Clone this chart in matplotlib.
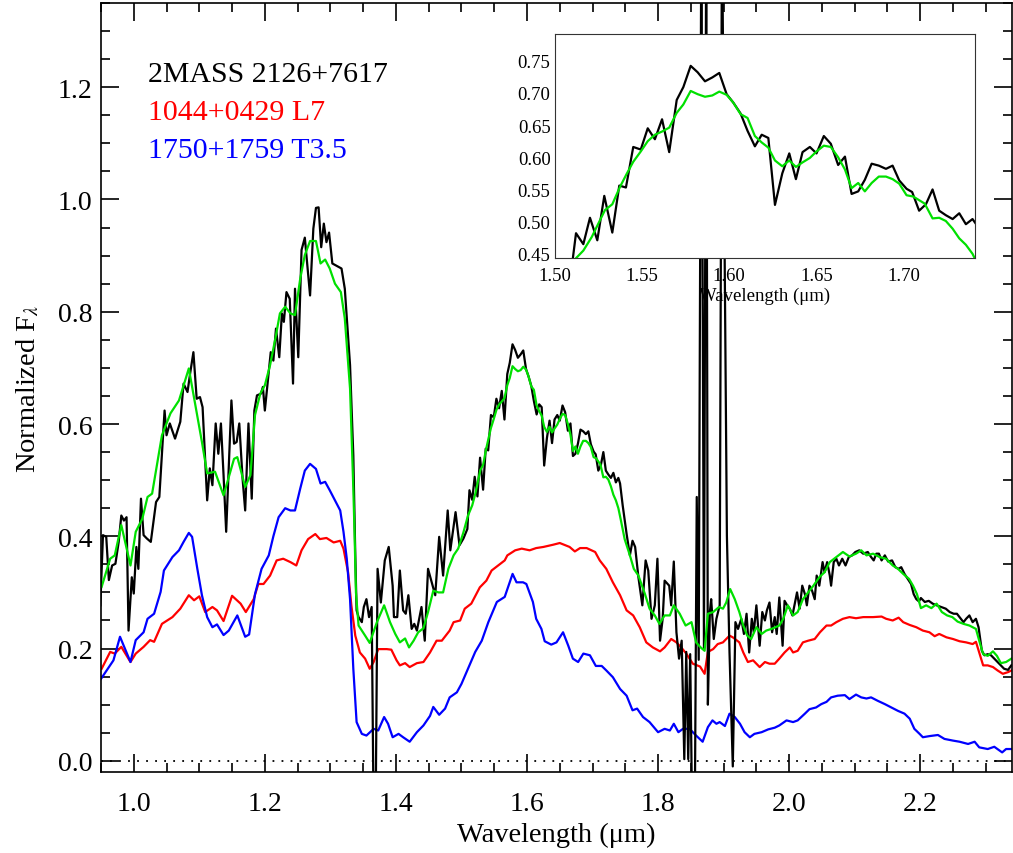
import matplotlib
matplotlib.use("Agg")
import matplotlib.pyplot as plt
from matplotlib.ticker import MultipleLocator, FormatStrFormatter

plt.rcParams["font.family"] = ["Liberation Serif", "DejaVu Serif"]
plt.rcParams["mathtext.fontset"] = "stix"

# --- spectra (wavelength in micron, normalized flux) ---
bk_wave = [0.949, 0.953, 0.958, 0.962, 0.967, 0.972, 0.977, 0.981, 0.985, 0.989, 0.992, 0.997, 1.000, 1.004,
           1.007, 1.011, 1.015, 1.020, 1.026, 1.034, 1.039, 1.047, 1.050, 1.055, 1.063, 1.071, 1.076, 1.082,
           1.086, 1.091, 1.096, 1.101, 1.105, 1.112, 1.116, 1.120, 1.125, 1.129, 1.133, 1.137, 1.141, 1.149,
           1.153, 1.157, 1.161, 1.166, 1.170, 1.175, 1.180, 1.184, 1.188, 1.194, 1.197, 1.200, 1.209, 1.213,
           1.217, 1.222, 1.226, 1.229, 1.233, 1.238, 1.243, 1.246, 1.251, 1.256, 1.261, 1.269, 1.274, 1.278,
           1.282, 1.286, 1.290, 1.294, 1.298, 1.303, 1.317, 1.322, 1.330, 1.335, 1.338, 1.340, 1.343, 1.348,
           1.351, 1.355, 1.359, 1.363, 1.366, 1.369, 1.372, 1.377, 1.383, 1.389, 1.395, 1.397, 1.402, 1.406,
           1.411, 1.415, 1.419, 1.424, 1.428, 1.432, 1.439, 1.444, 1.449, 1.460, 1.466, 1.472, 1.479, 1.483,
           1.491, 1.497, 1.503, 1.509, 1.5122, 1.5164, 1.5202, 1.5244, 1.5284, 1.5330, 1.5370, 1.5408, 1.5450,
           1.5493, 1.5533, 1.5574, 1.5615, 1.5656, 1.5699, 1.5737, 1.5779, 1.5819, 1.5861, 1.5903, 1.5943,
           1.5985, 1.6023, 1.6065, 1.6105, 1.6147, 1.6186, 1.6224, 1.6262, 1.6304, 1.6344, 1.6382, 1.6420,
           1.6462, 1.6500, 1.6542, 1.6582, 1.6624, 1.6663, 1.6701, 1.6739, 1.6777, 1.6816, 1.6857, 1.6898,
           1.6936, 1.6974, 1.7016, 1.7048, 1.7088, 1.7127, 1.7165, 1.7203, 1.7241, 1.7280, 1.7318, 1.7356,
           1.7394, 1.7420, 1.746, 1.752, 1.757, 1.761, 1.765, 1.770, 1.776, 1.781, 1.785, 1.790, 1.795, 1.799,
           1.803, 1.807, 1.810, 1.817, 1.820, 1.824, 1.828, 1.832, 1.836, 1.840, 1.843, 1.846, 1.849, 1.852,
           1.856, 1.859, 1.862, 1.866, 1.870, 1.8735, 1.876, 1.879, 1.881, 1.885, 1.889, 1.894, 1.8975, 1.905,
           1.909, 1.914, 1.918, 1.922, 1.927, 1.931, 1.935, 1.939, 1.943, 1.946, 1.950, 1.955, 1.959, 1.963,
           1.966, 1.970, 1.974, 1.978, 1.981, 1.985, 1.990, 1.993, 1.997, 2.001, 2.005, 2.008, 2.012, 2.016,
           2.020, 2.024, 2.027, 2.031, 2.035, 2.039, 2.042, 2.046, 2.051, 2.054, 2.058, 2.062, 2.064, 2.068,
           2.072, 2.076, 2.081, 2.086, 2.091, 2.096, 2.101, 2.107, 2.113, 2.120, 2.125, 2.129, 2.133, 2.137,
           2.141, 2.146, 2.151, 2.157, 2.162, 2.167, 2.171, 2.176, 2.181, 2.186, 2.190, 2.194, 2.198, 2.201,
           2.207, 2.213, 2.219, 2.225, 2.232, 2.239, 2.245, 2.251, 2.256, 2.260, 2.266, 2.270, 2.275, 2.280,
           2.285, 2.289, 2.294, 2.298, 2.303, 2.308, 2.313, 2.318, 2.323, 2.328, 2.334, 2.339]
bk_flux = [0.277, 0.402, 0.399, 0.322, 0.348, 0.351, 0.390, 0.437, 0.428, 0.434, 0.232, 0.327, 0.298, 0.381,
           0.342, 0.467, 0.402, 0.396, 0.390, 0.461, 0.470, 0.624, 0.580, 0.601, 0.574, 0.604, 0.672, 0.657,
           0.690, 0.728, 0.645, 0.648, 0.630, 0.464, 0.521, 0.491, 0.601, 0.547, 0.601, 0.509, 0.408, 0.642,
           0.565, 0.568, 0.601, 0.503, 0.446, 0.601, 0.467, 0.624, 0.651, 0.654, 0.666, 0.624, 0.728, 0.713,
           0.770, 0.719, 0.797, 0.782, 0.835, 0.823, 0.672, 0.841, 0.719, 0.910, 0.932, 0.829, 0.948, 0.985,
           0.986, 0.915, 0.957, 0.924, 0.941, 0.886, 0.877, 0.841, 0.705, 0.544, 0.366, 0.268, 0.256, 0.247,
           0.274, 0.288, 0.256, 0.274, -0.100, -0.100, 0.342, 0.282, 0.357, 0.381, 0.312, 0.256, 0.256, 0.339,
           0.268, 0.262, 0.295, 0.235, 0.244, 0.232, 0.274, 0.214, 0.342, 0.295, 0.399, 0.330, 0.446, 0.375,
           0.443, 0.384, 0.396, 0.413, 0.482, 0.465, 0.506, 0.471, 0.540, 0.483, 0.556, 0.553, 0.616,
           0.612, 0.645, 0.628, 0.659, 0.608, 0.689, 0.709, 0.742, 0.732, 0.718, 0.724, 0.731,
           0.698, 0.685, 0.668, 0.641, 0.617, 0.635, 0.630, 0.526, 0.575, 0.606, 0.566, 0.608,
           0.616, 0.606, 0.633, 0.621, 0.588, 0.601, 0.543, 0.547, 0.565, 0.590, 0.587, 0.582,
           0.587, 0.564, 0.551, 0.546, 0.517, 0.527, 0.550, 0.517, 0.510, 0.504, 0.513, 0.496,
           0.504, 0.494, 0.455, 0.404, 0.366, 0.392, 0.381, 0.327, 0.277, 0.357, 0.339, 0.253, 0.277, 0.360,
           0.214, 0.253, 0.321, 0.312, 0.277, 0.355, 0.229, 0.182, 0.214, 0.003, 0.194, 0.003, 0.190, -0.100,
           -0.100, 0.470, 0.180, 1.500, 0.200, 1.500, 0.100, 0.265, 0.288, 0.217, 0.253, 0.277, 1.500, 0.401,
           0.193, -0.010, 0.247, 0.235, 0.253, 0.226, 0.262, 0.193, 0.253, 0.229, 0.277, 0.205, 0.265, 0.250,
           0.268, 0.282, 0.229, 0.256, 0.226, 0.291, 0.205, 0.285, 0.277, 0.271, 0.259, 0.277, 0.300, 0.271,
           0.312, 0.297, 0.277, 0.312, 0.303, 0.288, 0.330, 0.312, 0.354, 0.336, 0.354, 0.330, 0.312, 0.354,
           0.360, 0.348, 0.360, 0.348, 0.363, 0.366, 0.372, 0.375, 0.369, 0.372, 0.363, 0.357, 0.369, 0.369,
           0.357, 0.366, 0.355, 0.357, 0.345, 0.342, 0.345, 0.333, 0.324, 0.315, 0.297, 0.288, 0.284, 0.290,
           0.283, 0.285, 0.280, 0.277, 0.274, 0.271, 0.265, 0.262, 0.262, 0.256, 0.247, 0.253, 0.259, 0.247,
           0.253, 0.238, 0.196, 0.188, 0.190, 0.188, 0.182, 0.176, 0.170, 0.164, 0.162, 0.170]

gr_wave = [0.951, 0.964, 0.971, 0.981, 0.995, 1.003, 1.013, 1.021, 1.028, 1.036, 1.043, 1.056, 1.069, 1.084,
           1.094, 1.104, 1.112, 1.124, 1.137, 1.153, 1.158, 1.170, 1.178, 1.185, 1.193, 1.200, 1.208, 1.216,
           1.223, 1.231, 1.239, 1.246, 1.254, 1.261, 1.269, 1.278, 1.285, 1.292, 1.299, 1.307, 1.316, 1.322,
           1.330, 1.335, 1.337, 1.339, 1.343, 1.353, 1.360, 1.371, 1.382, 1.391, 1.399, 1.406, 1.414, 1.420,
           1.427, 1.434, 1.442, 1.449, 1.457, 1.465, 1.472, 1.480, 1.488, 1.495, 1.503, 1.510, 1.5164, 1.5212,
           1.5250, 1.5288, 1.5330, 1.5374, 1.5412, 1.5450, 1.5493, 1.5533, 1.5574, 1.5615, 1.5656, 1.5699,
           1.5737, 1.5779, 1.5819, 1.5861, 1.5903, 1.5943, 1.5985, 1.6023, 1.6065, 1.6105, 1.6147, 1.6186,
           1.6224, 1.6262, 1.6304, 1.6344, 1.6382, 1.6420, 1.6462, 1.6500, 1.6542, 1.6582, 1.6624, 1.6663,
           1.6701, 1.6739, 1.6777, 1.6816, 1.6857, 1.6898, 1.6936, 1.6974, 1.7016, 1.7054, 1.7120, 1.7165,
           1.7203, 1.7241, 1.7280, 1.7318, 1.7356, 1.7394, 1.7430, 1.749, 1.757, 1.763, 1.770, 1.780, 1.787,
           1.795, 1.802, 1.810, 1.818, 1.824, 1.833, 1.842, 1.851, 1.858, 1.865, 1.871, 1.876, 1.884, 1.893,
           1.899, 1.904, 1.910, 1.917, 1.924, 1.930, 1.936, 1.942, 1.950, 1.958, 1.965, 1.973, 1.979, 1.985,
           1.991, 1.998, 2.006, 2.013, 2.021, 2.029, 2.037, 2.046, 2.054, 2.062, 2.072, 2.082, 2.092, 2.102,
           2.110, 2.118, 2.128, 2.138, 2.148, 2.158, 2.166, 2.174, 2.183, 2.189, 2.195, 2.201, 2.209, 2.217,
           2.225, 2.233, 2.241, 2.249, 2.257, 2.266, 2.275, 2.285, 2.290, 2.296, 2.303, 2.311, 2.317, 2.323,
           2.331, 2.339]
gr_flux = [0.310, 0.360, 0.366, 0.420, 0.348, 0.408, 0.431, 0.470, 0.476, 0.532, 0.580, 0.619, 0.642, 0.699,
           0.633, 0.568, 0.512, 0.515, 0.473, 0.538, 0.541, 0.488, 0.509, 0.616, 0.654, 0.669, 0.705, 0.752,
           0.797, 0.809, 0.797, 0.794, 0.859, 0.901, 0.926, 0.926, 0.886, 0.893, 0.877, 0.850, 0.835, 0.788,
           0.663, 0.485, 0.400, 0.300, 0.241, 0.223, 0.210, 0.247, 0.277, 0.247, 0.226, 0.211, 0.218, 0.202,
           0.214, 0.229, 0.236, 0.265, 0.303, 0.300, 0.300, 0.342, 0.366, 0.378, 0.407, 0.437, 0.455, 0.476,
           0.497, 0.518, 0.527, 0.554, 0.574, 0.593, 0.609, 0.625, 0.635, 0.640, 0.646, 0.669,
           0.682, 0.703, 0.698, 0.694, 0.696, 0.702, 0.697, 0.685, 0.667, 0.661, 0.633, 0.623,
           0.615, 0.595, 0.586, 0.595, 0.585, 0.592, 0.599, 0.609, 0.618, 0.616, 0.600, 0.581,
           0.552, 0.560, 0.547, 0.560, 0.570, 0.570, 0.566, 0.559, 0.541, 0.539, 0.528, 0.505,
           0.506, 0.501, 0.489, 0.474, 0.464, 0.450, 0.430, 0.395, 0.366, 0.342, 0.330, 0.297, 0.271,
           0.259, 0.244, 0.259, 0.259, 0.277, 0.262, 0.241, 0.247, 0.211, 0.202, 0.196, 0.262, 0.265, 0.274,
           0.271, 0.282, 0.306, 0.288, 0.265, 0.241, 0.223, 0.217, 0.238, 0.226, 0.232, 0.235, 0.238, 0.241,
           0.253, 0.277, 0.259, 0.265, 0.288, 0.300, 0.312, 0.327, 0.336, 0.354, 0.363, 0.372, 0.364, 0.369,
           0.375, 0.366, 0.369, 0.363, 0.360, 0.348, 0.342, 0.333, 0.324, 0.312, 0.297, 0.272, 0.277, 0.272,
           0.280, 0.265, 0.259, 0.256, 0.248, 0.244, 0.241, 0.235, 0.214, 0.190, 0.187, 0.195, 0.187, 0.174,
           0.176, 0.182]

l7_wave = [0.951, 0.964, 0.971, 0.981, 0.995, 1.003, 1.015, 1.025, 1.031, 1.043, 1.059, 1.071, 1.084, 1.092,
           1.100, 1.109, 1.120, 1.127, 1.137, 1.150, 1.163, 1.171, 1.183, 1.190, 1.198, 1.208, 1.218, 1.228,
           1.239, 1.248, 1.256, 1.266, 1.277, 1.284, 1.294, 1.305, 1.315, 1.320, 1.327, 1.332, 1.338, 1.345,
           1.353, 1.360, 1.366, 1.373, 1.386, 1.393, 1.401, 1.406, 1.414, 1.421, 1.432, 1.442, 1.452, 1.462,
           1.470, 1.482, 1.488, 1.498, 1.505, 1.515, 1.528, 1.538, 1.546, 1.556, 1.566, 1.570, 1.582, 1.592,
           1.604, 1.614, 1.625, 1.640, 1.650, 1.665, 1.673, 1.681, 1.691, 1.704, 1.711, 1.721, 1.731, 1.742,
           1.752, 1.762, 1.772, 1.782, 1.792, 1.803, 1.810, 1.820, 1.828, 1.836, 1.843, 1.853, 1.864, 1.871,
           1.876, 1.884, 1.891, 1.899, 1.909, 1.914, 1.924, 1.930, 1.937, 1.945, 1.955, 1.963, 1.970, 1.978,
           1.985, 1.993, 2.001, 2.006, 2.013, 2.021, 2.029, 2.039, 2.047, 2.057, 2.064, 2.072, 2.082, 2.092,
           2.102, 2.113, 2.128, 2.141, 2.148, 2.158, 2.167, 2.174, 2.184, 2.194, 2.204, 2.214, 2.222, 2.229,
           2.240, 2.250, 2.260, 2.270, 2.280, 2.285, 2.290, 2.296, 2.303, 2.311, 2.318, 2.326, 2.334, 2.341]
l7_flux = [0.164, 0.194, 0.191, 0.203, 0.176, 0.191, 0.203, 0.215, 0.212, 0.244, 0.256, 0.271, 0.295, 0.286,
           0.293, 0.265, 0.274, 0.268, 0.249, 0.294, 0.280, 0.265, 0.288, 0.315, 0.315, 0.330, 0.357, 0.360,
           0.354, 0.348, 0.375, 0.395, 0.404, 0.395, 0.397, 0.389, 0.392, 0.378, 0.336, 0.277, 0.223, 0.193,
           0.182, 0.164, 0.176, 0.199, 0.199, 0.198, 0.179, 0.170, 0.174, 0.167, 0.174, 0.176, 0.193, 0.214,
           0.214, 0.232, 0.247, 0.250, 0.271, 0.280, 0.309, 0.321, 0.339, 0.348, 0.357, 0.366, 0.375, 0.378,
           0.375, 0.379, 0.381, 0.385, 0.388, 0.381, 0.373, 0.379, 0.379, 0.372, 0.357, 0.342, 0.318, 0.295,
           0.268, 0.259, 0.238, 0.211, 0.202, 0.195, 0.202, 0.217, 0.211, 0.201, 0.191, 0.173, 0.168, 0.155,
           0.194, 0.199, 0.208, 0.211, 0.223, 0.220, 0.211, 0.193, 0.176, 0.179, 0.167, 0.176, 0.173, 0.173,
           0.182, 0.193, 0.202, 0.193, 0.196, 0.211, 0.214, 0.217, 0.229, 0.241, 0.241, 0.247, 0.253, 0.256,
           0.254, 0.256, 0.256, 0.257, 0.253, 0.250, 0.255, 0.247, 0.242, 0.238, 0.232, 0.229, 0.222, 0.226,
           0.220, 0.217, 0.213, 0.211, 0.208, 0.212, 0.193, 0.170, 0.170, 0.167, 0.161, 0.155, 0.158, 0.162]

t35_wave = [0.950, 0.969, 0.979, 0.995, 1.003, 1.015, 1.021, 1.031, 1.041, 1.046, 1.059, 1.069, 1.076, 1.084,
            1.089, 1.097, 1.104, 1.112, 1.120, 1.127, 1.137, 1.145, 1.158, 1.170, 1.176, 1.185, 1.195, 1.206,
            1.213, 1.221, 1.231, 1.239, 1.246, 1.254, 1.261, 1.269, 1.278, 1.285, 1.292, 1.299, 1.307, 1.315,
            1.320, 1.325, 1.330, 1.335, 1.340, 1.348, 1.355, 1.366, 1.373, 1.382, 1.388, 1.395, 1.404, 1.411,
            1.421, 1.432, 1.442, 1.452, 1.457, 1.466, 1.475, 1.482, 1.493, 1.500, 1.510, 1.521, 1.531, 1.541,
            1.554, 1.566, 1.578, 1.584, 1.594, 1.599, 1.609, 1.614, 1.622, 1.627, 1.637, 1.645, 1.655, 1.663,
            1.670, 1.678, 1.686, 1.696, 1.705, 1.714, 1.721, 1.731, 1.742, 1.752, 1.761, 1.768, 1.777, 1.787,
            1.800, 1.810, 1.818, 1.824, 1.831, 1.838, 1.848, 1.858, 1.868, 1.876, 1.883, 1.889, 1.894, 1.902,
            1.909, 1.917, 1.925, 1.932, 1.940, 1.947, 1.958, 1.968, 1.978, 1.985, 1.996, 2.006, 2.013, 2.024,
            2.031, 2.041, 2.049, 2.057, 2.064, 2.074, 2.085, 2.092, 2.102, 2.110, 2.118, 2.125, 2.135, 2.146,
            2.156, 2.166, 2.176, 2.184, 2.191, 2.199, 2.204, 2.214, 2.227, 2.237, 2.250, 2.260, 2.273, 2.283,
            2.290, 2.303, 2.313, 2.325, 2.331, 2.341]
t35_flux = [0.146, 0.179, 0.221, 0.176, 0.215, 0.229, 0.253, 0.262, 0.301, 0.339, 0.363, 0.375, 0.390, 0.406,
            0.399, 0.342, 0.295, 0.256, 0.238, 0.243, 0.224, 0.232, 0.259, 0.221, 0.225, 0.297, 0.342, 0.366,
            0.400, 0.434, 0.450, 0.446, 0.446, 0.485, 0.517, 0.529, 0.520, 0.494, 0.497, 0.482, 0.464, 0.446,
            0.408, 0.360, 0.288, 0.164, 0.069, 0.048, 0.045, 0.057, 0.054, 0.078, 0.066, 0.042, 0.048, 0.042,
            0.034, 0.051, 0.063, 0.080, 0.096, 0.082, 0.093, 0.113, 0.122, 0.137, 0.164, 0.194, 0.214, 0.247,
            0.283, 0.292, 0.333, 0.318, 0.318, 0.315, 0.283, 0.253, 0.235, 0.213, 0.207, 0.211, 0.229, 0.205,
            0.182, 0.176, 0.191, 0.188, 0.169, 0.169, 0.161, 0.149, 0.128, 0.116, 0.090, 0.093, 0.078, 0.069,
            0.051, 0.057, 0.054, 0.066, 0.051, 0.057, 0.057, 0.045, 0.034, 0.060, 0.072, 0.066, 0.069, 0.062,
            0.084, 0.078, 0.066, 0.051, 0.042, 0.048, 0.051, 0.056, 0.059, 0.063, 0.072, 0.069, 0.072, 0.084,
            0.092, 0.095, 0.101, 0.105, 0.113, 0.116, 0.117, 0.110, 0.118, 0.113, 0.111, 0.113, 0.107, 0.101,
            0.095, 0.089, 0.084, 0.075, 0.057, 0.048, 0.042, 0.044, 0.046, 0.039, 0.036, 0.034, 0.030, 0.034,
            0.024, 0.021, 0.025, 0.015, 0.021, 0.021]

names = ["2MASS 2126+7617", "1044+0429 L7", "1750+1759 T3.5"]
GREEN = "#00e000"

fig = plt.figure(figsize=(10.13, 8.54), dpi=100)
ax = fig.add_axes([0.0997, 0.0948, 0.8993, 0.9005])

ax.plot(l7_wave, l7_flux, color="red", lw=1.6)
ax.plot(t35_wave, t35_flux, color="blue", lw=1.6)
ax.plot(bk_wave, bk_flux, color="black", lw=1.6)
ax.plot(gr_wave, gr_flux, color=GREEN, lw=1.6)
ax.axhline(0.0, color="black", lw=1.3, ls=(0, (1, 4)))

ax.set_xlim(0.95, 2.34)
ax.set_ylim(-0.02, 1.35)
ax.xaxis.set_major_locator(MultipleLocator(0.2))
ax.xaxis.set_minor_locator(MultipleLocator(0.05))
ax.yaxis.set_major_locator(MultipleLocator(0.2))
ax.yaxis.set_minor_locator(MultipleLocator(0.05))
ax.xaxis.set_major_formatter(FormatStrFormatter("%.1f"))
ax.yaxis.set_major_formatter(FormatStrFormatter("%.1f"))
ax.tick_params(which="both", direction="in", top=True, right=True, width=1.2, labelsize=20)
ax.tick_params(axis="x", which="both", pad=14)
ax.tick_params(axis="y", which="both", pad=6)
ax.tick_params(which="major", length=13)
ax.tick_params(which="minor", length=6.5)
for s in ax.spines.values():
    s.set_linewidth(1.2)
ax.set_xlabel("Wavelength (\u03bcm)", fontsize=20.5, labelpad=4)
ax.set_ylabel(r"Normalized F$_\lambda$", fontsize=20.5, labelpad=12)

for txt, col, yy in zip(names, ["black", "red", "blue"], [0.8986, 0.8492, 0.7994]):
    ax.text(0.0515, yy, txt, color=col, fontsize=21.5, transform=ax.transAxes, va="baseline", ha="left")

# --- inset: zoom on the H-band peak ---
ins = fig.add_axes([0.5476, 0.6971, 0.4152, 0.2623])
ins.set_facecolor("white")
ins.plot(bk_wave, bk_flux, color="black", lw=1.6)
ins.plot(gr_wave, gr_flux, color=GREEN, lw=1.6)
ins.set_xlim(1.50, 1.741)
ins.set_ylim(0.444, 0.792)
ins.xaxis.set_major_locator(MultipleLocator(0.05))
ins.yaxis.set_major_locator(MultipleLocator(0.05))
ins.xaxis.set_major_formatter(FormatStrFormatter("%.2f"))
ins.yaxis.set_major_formatter(FormatStrFormatter("%.2f"))
ins.tick_params(length=0, labelsize=13.5)
ins.tick_params(axis="x", pad=7)
ins.tick_params(axis="y", pad=3)
for s in ins.spines.values():
    s.set_linewidth(0.8)
    s.set_color("#333333")
ins.set_xlabel("Wavelength (\u03bcm)", fontsize=13.5, labelpad=2)

fig.savefig("out.png", dpi=100)
